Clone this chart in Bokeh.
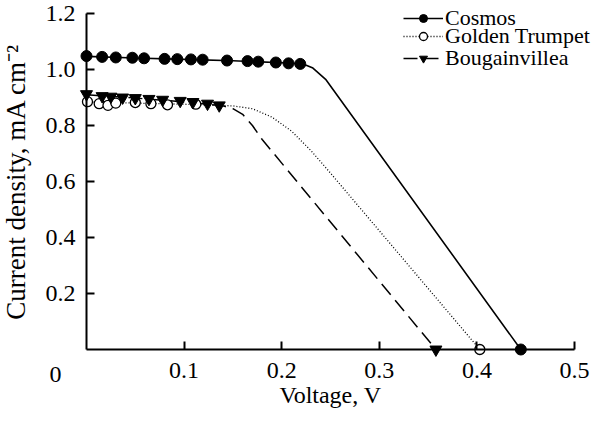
from bokeh.plotting import figure
from bokeh.models import Range1d, FixedTicker, Label, Legend, LegendItem
from bokeh.embed import file_html
from bokeh.resources import INLINE

# ---- data ----
x_ticks = [0.1, 0.2, 0.3, 0.4, 0.5]
x_tick_labels = ["0.1", "0.2", "0.3", "0.4", "0.5"]
y_ticks = [0.2, 0.4, 0.6, 0.8, 1.0, 1.2]
y_tick_labels = ["0.2", "0.4", "0.6", "0.8", "1.0", "1.2"]

series_names = ["Cosmos", "Golden Trumpet", "Bougainvillea"]

cosmos_mv = [0.0, 0.016, 0.030, 0.047, 0.059, 0.080, 0.093, 0.107, 0.119,
             0.144, 0.165, 0.176, 0.194, 0.207, 0.219, 0.445]
cosmos_mj = [1.048, 1.045, 1.043, 1.042, 1.040, 1.038, 1.037, 1.036, 1.035,
             1.032, 1.030, 1.028, 1.025, 1.022, 1.020, 0.0]
cosmos_lv = [0.0, 0.05, 0.10, 0.15, 0.20, 0.222, 0.232, 0.245, 0.445]
cosmos_lj = [1.047, 1.041, 1.036, 1.031, 1.024, 1.020, 1.005, 0.965, 0.0]

golden_mv = [0.001, 0.013, 0.022, 0.030, 0.050, 0.066, 0.083, 0.112, 0.403]
golden_mj = [0.885, 0.878, 0.872, 0.880, 0.882, 0.878, 0.874, 0.876, 0.0]
golden_lv = [0.0, 0.05, 0.10, 0.15, 0.17, 0.19, 0.21, 0.23, 0.25, 0.403]
golden_lj = [0.884, 0.880, 0.876, 0.870, 0.860, 0.830, 0.780, 0.710, 0.630, 0.0]

bouga_mv = [0.0, 0.016, 0.025, 0.037, 0.050, 0.064, 0.078, 0.096, 0.109,
            0.124, 0.136, 0.358]
bouga_mj = [0.912, 0.905, 0.903, 0.900, 0.898, 0.895, 0.892, 0.888, 0.884,
            0.878, 0.872, 0.0]
bouga_lv = [0.0, 0.05, 0.10, 0.14, 0.15, 0.16, 0.17, 0.18, 0.358]
bouga_lj = [0.910, 0.898, 0.884, 0.870, 0.860, 0.840, 0.800, 0.750, 0.0]

FONT = "Liberation Serif"

W, H = 591, 414
# frame fills the whole canvas; axes are pinned at V=0 / J=0 inside it
PX_X = 976.0   # pixels per volt
PX_Y = 280.0   # pixels per mA cm^-2
ORIG_X, ORIG_Y = 86, 65  # canvas position of the origin (from left / from bottom)

p = figure(width=W, height=H, output_backend="svg", toolbar_location=None,
           x_range=Range1d(-ORIG_X / PX_X, (W - ORIG_X) / PX_X),
           y_range=Range1d(-ORIG_Y / PX_Y, (H - ORIG_Y) / PX_Y),
           min_border=0, min_border_left=0, min_border_right=0,
           min_border_top=0, min_border_bottom=0)
p.outline_line_color = None
p.xgrid.visible = False
p.ygrid.visible = False

for ax in (p.xaxis[0], p.yaxis[0]):
    ax.fixed_location = 0
    ax.axis_line_width = 2
    ax.axis_line_color = "black"
    ax.major_tick_line_width = 2
    ax.major_tick_line_color = "black"
    ax.major_tick_in = 8
    ax.major_tick_out = 0
    ax.minor_tick_line_color = None
    ax.major_label_text_font = FONT
    ax.major_label_text_font_size = "24px"
    ax.major_label_text_color = "black"
    ax.axis_label_text_font = FONT
    ax.axis_label_text_font_style = "normal"
    ax.axis_label_text_color = "black"

p.xaxis.bounds = (0, x_ticks[-1])
p.yaxis.bounds = (0, y_ticks[-1])
p.xaxis.ticker = FixedTicker(ticks=x_ticks)
p.xaxis.major_label_overrides = dict(zip(x_ticks, x_tick_labels))
p.yaxis.ticker = FixedTicker(ticks=y_ticks)
p.yaxis.major_label_overrides = dict(zip(y_ticks, y_tick_labels))
p.xaxis.major_label_standoff = 13
p.yaxis.major_label_standoff = 11
p.xaxis.axis_label = "Voltage, V"
p.yaxis.axis_label = "Current density, mA cm\u207b\u00b2"
p.xaxis.axis_label_text_font_size = "24px"
p.yaxis.axis_label_text_font_size = "27px"
p.xaxis.axis_label_standoff = 1
p.yaxis.axis_label_standoff = 12

# lines
l1 = p.line(cosmos_lv, cosmos_lj, line_color="black", line_width=1.6)
l2 = p.line(golden_lv, golden_lj, line_color="black", line_width=1.3, line_dash="1 2")
l3 = p.line(bouga_lv, bouga_lj, line_color="black", line_width=1.5, line_dash="14 7")

# markers
s1 = p.scatter(cosmos_mv, cosmos_mj, marker="circle", size=11,
               fill_color="black", line_color="black")
s2 = p.scatter(golden_mv, golden_mj, marker="circle", size=10,
               fill_color="white", line_color="black", line_width=1.3)
s3 = p.scatter(bouga_mv, bouga_mj, marker="inverted_triangle", size=12,
               fill_color="black", line_color="black")

# one legend box per entry so the rows sit as tightly as in the reference
legend_y = [383, 365, 343]
for name, rends, ly in zip(series_names, [[l1, s1], [l2, s2], [l3, s3]], legend_y):
    lg = Legend(items=[LegendItem(label=name, renderers=rends)],
                location=(403, ly), padding=0, margin=0, spacing=0,
                glyph_width=40, glyph_height=20, label_height=20, label_standoff=2,
                label_text_font=FONT, label_text_font_size="22px",
                label_text_color="black",
                background_fill_alpha=0, border_line_color=None)
    p.add_layout(lg)

p.add_layout(Label(x=0, y=0, x_offset=-31, y_offset=-25, text="0",
                   text_align="center", text_baseline="middle",
                   text_font=FONT, text_font_size="24px", text_color="black"))

open("out.html", "w").write(file_html(p, INLINE))
